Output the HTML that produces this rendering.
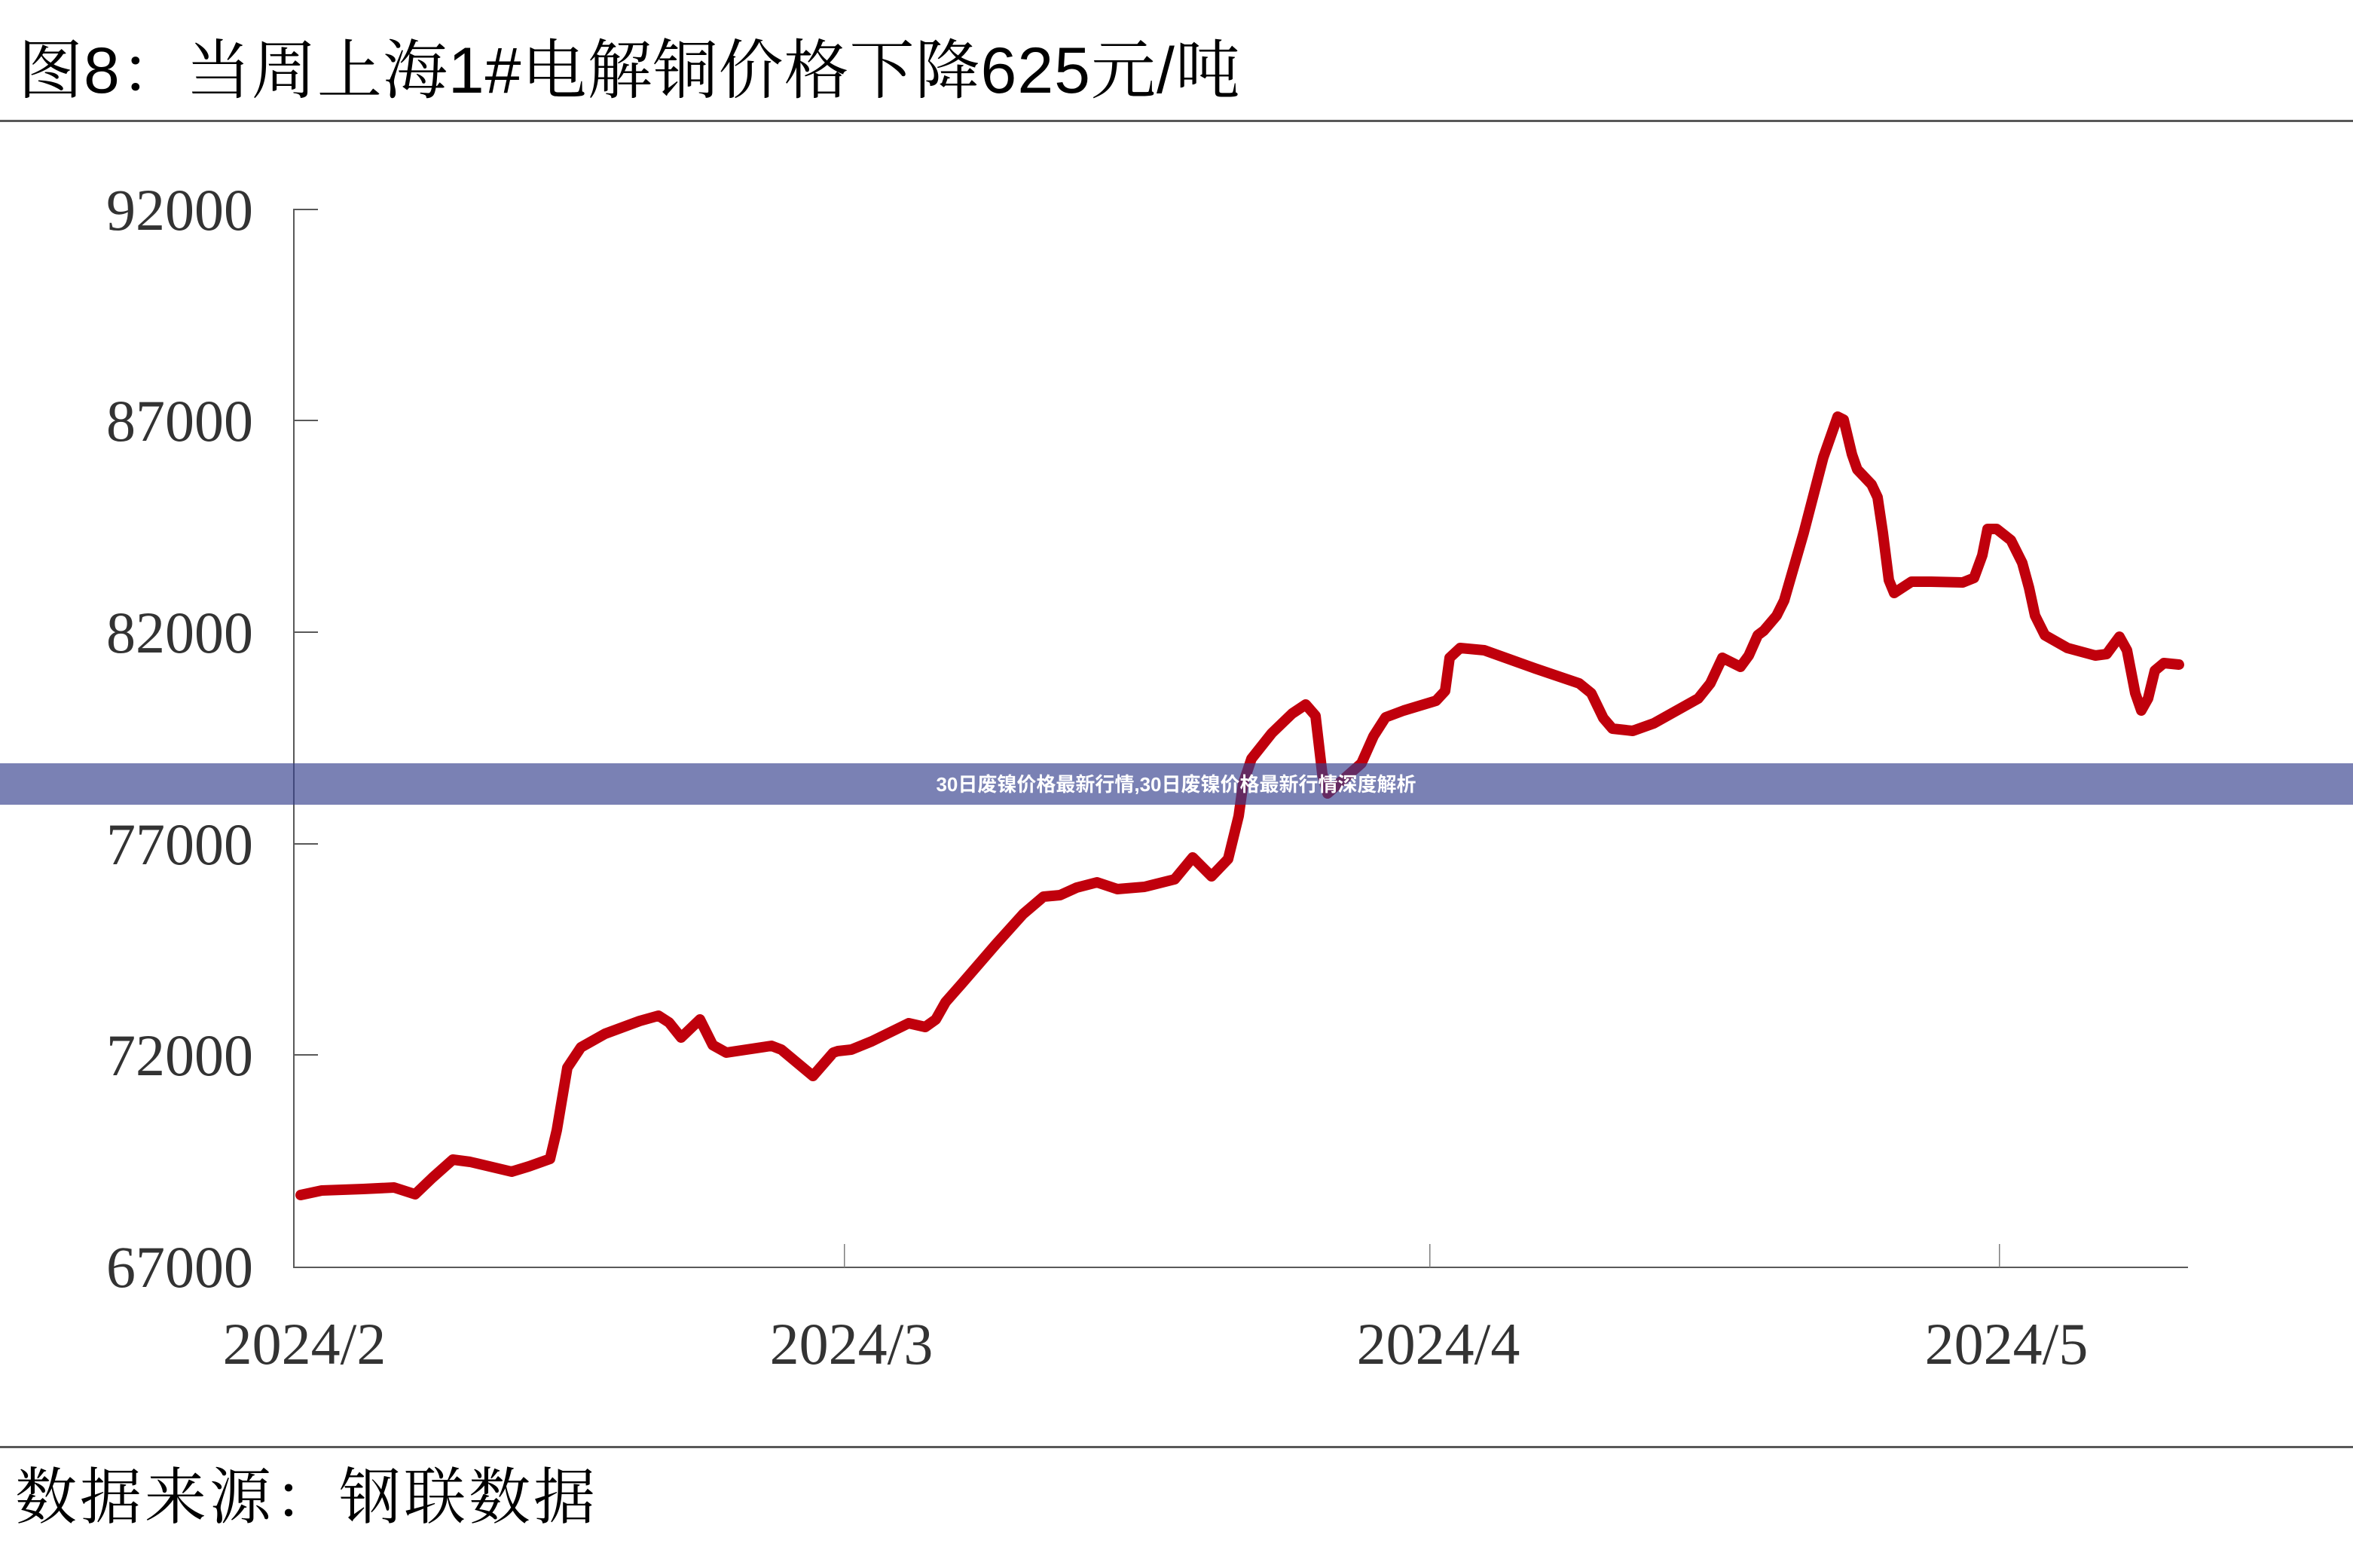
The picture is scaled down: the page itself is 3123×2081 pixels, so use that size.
<!DOCTYPE html>
<html>
<head>
<meta charset="utf-8">
<style>
  html, body { margin: 0; padding: 0; background: #ffffff; }
  body { width: 3123px; height: 2081px; overflow: hidden; position: relative; }
  svg { position: absolute; left: 0; top: 0; display: block; }
</style>
</head>
<body>
<svg width="3123" height="2081" viewBox="0 0 3123 2081" xmlns="http://www.w3.org/2000/svg">
  <rect x="0" y="0" width="3123" height="2081" fill="#ffffff"/>

  <!-- Title -->
  <text x="24" y="123" font-family="'Liberation Sans', 'Noto Serif CJK SC', serif" font-size="86" letter-spacing="1" fill="#000000">图8：当周上海1#电解铜价格下降625元/吨</text>
  <rect x="0" y="159" width="3123" height="3" fill="#595959"/>

  <!-- Y axis -->
  <rect x="389" y="277" width="2" height="1406" fill="#595959"/>
  <g fill="#595959">
    <rect x="389" y="277" width="33" height="2"/>
    <rect x="389" y="557" width="33" height="2"/>
    <rect x="389" y="838" width="33" height="2"/>
    <rect x="389" y="1119" width="33" height="2"/>
    <rect x="389" y="1399" width="33" height="2"/>
  </g>
  <g font-family="'Liberation Serif', serif" font-size="78" fill="#333333" text-anchor="end">
    <text x="336" y="305">92000</text>
    <text x="336" y="585">87000</text>
    <text x="336" y="866">82000</text>
    <text x="336" y="1147">77000</text>
    <text x="336" y="1427">72000</text>
    <text x="336" y="1708">67000</text>
  </g>

  <!-- X axis -->
  <rect x="389" y="1681" width="2515" height="2" fill="#595959"/>
  <g fill="#7f7f7f">
    <rect x="1120" y="1651" width="1.5" height="31"/>
    <rect x="1897" y="1651" width="1.5" height="31"/>
    <rect x="2653" y="1651" width="1.5" height="31"/>
  </g>
  <g font-family="'Liberation Serif', serif" font-size="78" fill="#333333" text-anchor="middle">
    <text x="404" y="1810">2024/2</text>
    <text x="1130" y="1810">2024/3</text>
    <text x="1909" y="1810">2024/4</text>
    <text x="2663" y="1810">2024/5</text>
  </g>

  <!-- Series -->
  <polyline fill="none" stroke="#c0000c" stroke-width="14" stroke-linejoin="round" stroke-linecap="round"
    points="399,1586 427,1580 482,1578 523,1576 551,1585 574,1563 601,1539 624,1542 679,1555 702,1548 730,1538 739,1500 753,1417 771,1390 803,1372 849,1355 874,1348 888,1357 904,1377 929,1353 946,1387 964,1397 1024,1388 1037,1393 1079,1428 1106,1397 1112,1395 1130,1393 1157,1382 1206,1358 1228,1363 1242,1353 1255,1330 1277,1305 1322,1253 1358,1213 1385,1190 1407,1188 1429,1178 1456,1171 1483,1180 1519,1177 1559,1167 1583,1138 1608,1163 1630,1140 1644,1083 1650,1040 1661,1007 1688,973 1715,947 1733,935 1746,950 1755,1027 1762,1053 1780,1037 1807,1013 1823,977 1839,952 1863,943 1906,930 1918,917 1924,873 1938,860 1970,863 2037,887 2096,907 2112,920 2128,953 2140,967 2167,970 2195,960 2254,927 2270,907 2286,873 2310,885 2321,870 2333,843 2341,837 2358,817 2368,797 2394,707 2420,607 2439,553 2447,557 2458,603 2465,623 2484,643 2492,660 2499,707 2507,770 2514,787 2537,772 2563,772 2605,773 2620,767 2631,737 2638,702 2650,702 2669,717 2684,747 2693,780 2701,817 2714,843 2744,860 2781,870 2796,868 2813,845 2823,863 2834,920 2842,943 2851,927 2860,890 2872,880 2892,882"/>

  <!-- Bottom separator and source -->
  <rect x="0" y="1919" width="3123" height="3" fill="#595959"/>
  <text x="20" y="2015" font-family="'Liberation Sans', 'Noto Serif CJK SC', serif" font-size="82" letter-spacing="4" fill="#000000">数据来源：钢联数据</text>

  <!-- Overlay banner -->
  <rect x="0" y="1013" width="3123" height="55" fill="rgb(53,63,141)" fill-opacity="0.66"/>
  <text x="1561" y="1050" font-family="'Liberation Sans', 'Noto Sans CJK SC', sans-serif" font-size="26" font-weight="bold" fill="#ffffff" text-anchor="middle">30日废镍价格最新行情,30日废镍价格最新行情深度解析</text>
</svg>
</body>
</html>
